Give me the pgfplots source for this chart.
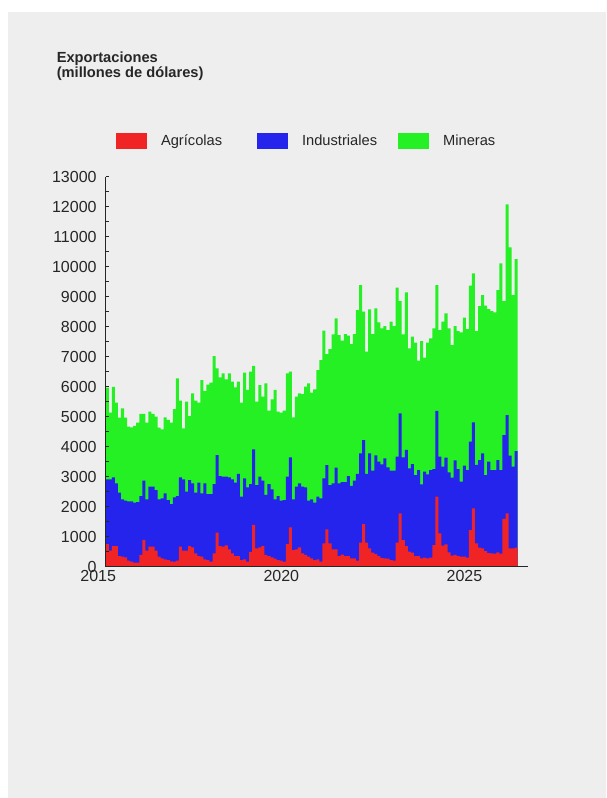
\documentclass[border=0pt]{standalone}
\usepackage{fontspec}
\setmainfont{Liberation Sans}
\usepackage{pgfplots}
\pgfplotsset{compat=1.18}
\usepackage{pgfplotstable}
\definecolor{agricol}{RGB}{240,36,36}
\definecolor{indcol}{RGB}{36,36,236}
\definecolor{mincol}{RGB}{36,240,36}
\definecolor{bggray}{RGB}{238,238,238}
% j = month index (bar 0 = Mar 2015); agri = Agricolas; agriind = Agricolas+Industriales; total = all three
\pgfplotstableread{
j agri agriind total
0 756 2912 5967
1 533 2912 5134
2 689 2978 5990
3 689 2778 5467
4 356 2467 4967
5 333 2245 5278
6 311 2200 4967
7 200 2178 4667
8 167 2178 4645
9 133 2134 4690
10 133 2156 4800
11 390 2356 5090
12 890 2867 5090
13 533 2245 4800
14 667 2667 5167
15 667 2667 5090
16 533 2556 5000
17 333 2245 4634
18 278 2278 4578
19 245 2445 4978
20 222 2223 4890
21 178 2089 4800
22 167 2312 5256
23 200 2356 6278
24 667 2978 5534
25 533 2912 4612
26 533 2500 5500
27 689 2889 5023
28 645 2778 5778
29 444 2467 5534
30 356 2800 5467
31 333 2445 6223
32 245 2778 5856
33 222 2423 6070
34 167 2423 6134
35 445 2756 7023
36 1134 3723 6612
37 689 3023 6312
38 667 3000 6445
39 712 3000 6245
40 578 2978 6445
41 445 2912 6167
42 356 2800 5978
43 356 3090 6167
44 222 2334 5467
45 245 2945 6467
46 167 2645 5890
47 490 2756 6500
48 1390 3912 6690
49 612 2723 5500
50 645 3000 6056
51 690 2867 5667
52 390 2390 6112
53 356 2756 5200
54 311 2578 5578
55 267 2245 5890
56 222 2356 5167
57 200 2200 5134
58 167 2223 5200
59 756 3000 6445
60 1312 3645 6500
61 556 2245 4978
62 578 2667 5667
63 645 2778 5778
64 445 2667 5756
65 390 2645 6000
66 333 2200 6112
67 278 2245 5800
68 222 2134 5911
69 245 2334 6556
70 167 2278 6889
71 778 2945 7867
72 1245 3389 7089
73 778 2723 7256
74 578 2778 7745
75 578 3300 8278
76 356 2778 7722
77 400 2823 7534
78 356 2823 7756
79 356 3023 7700
80 278 2690 7423
81 278 2867 7756
82 200 3090 8556
83 800 3779 9389
84 1423 4223 8500
85 800 3090 7167
86 611 3779 8578
87 467 3200 7756
88 422 3712 8611
89 356 3500 8145
90 289 3412 7945
91 278 3612 8023
92 267 3312 7889
93 222 3200 8167
94 200 3200 8023
95 800 3667 9300
96 1778 5112 8856
97 889 3645 7745
98 689 3890 9145
99 500 3278 7278
100 467 3423 7667
101 356 3056 7467
102 356 3223 6867
103 278 2745 7523
104 300 3167 6967
105 278 3078 7467
106 300 3223 7612
107 722 3256 7945
108 2334 5190 9389
109 1111 3667 7889
110 700 3334 8167
111 745 3634 8445
112 478 3145 7945
113 367 2967 7389
114 390 3545 8023
115 356 3256 7856
116 334 2834 7812
117 334 3367 8300
118 300 3223 7923
119 1222 4167 9367
120 1945 4812 9778
121 778 3390 7856
122 634 3556 8689
123 612 3778 9056
124 522 3056 8700
125 456 3500 8589
126 445 3223 8523
127 434 3223 8478
128 478 3556 9223
129 434 3223 10111
130 1590 4389 8856
131 1778 5056 12078
132 612 3700 10645
133 612 3334 9056
134 634 3856 10256
135 634 3856 10256
}\datatable

\begin{document}
\begin{tikzpicture}
\path[use as bounding box, fill=white] (-79.275pt,-173.475pt) rectangle (375.225pt,425.025pt);
\fill[bggray] (-73.275pt,-173.475pt) rectangle (375.225pt,416.025pt);
\node[anchor=base west, inner sep=0pt, font=\bfseries\fontsize{11}{13}\selectfont, text=black!85] at (-36.9pt,378pt) {Exportaciones};
\node[anchor=base west, inner sep=0pt, font=\bfseries\fontsize{11}{13}\selectfont, text=black!85] at (-36.9pt,367.05pt) {(millones de dólares)};
\begin{axis}[
  scale only axis,
  width=316.725pt, height=292.5pt,
  xmin=0, xmax=138.37, ymin=0, ymax=13000,
  axis lines*=left,
  axis line style={black!85, line width=0.75pt},
  axis on top,
  clip=false,
  xtick={57.54,117.54},
  xticklabels={2020,2025},
  xtick style={draw=none},
  ytick distance=1000,
  scaled y ticks=false,
  minor y tick num=1,
  tick align=inside,
  major tick length=2.4pt,
  minor tick length=2.4pt,
  ytick style={black!85, line width=0.75pt},
  minor tick style={black!85, line width=0.75pt},
  ticklabel style={font=\fontsize{12}{14}\selectfont, text=black!85},
  yticklabel style={xshift=-3.3pt, /pgf/number format/fixed, /pgf/number format/precision=0},
  xticklabel style={yshift=0.8pt},
  /pgf/number format/assume math mode=true,
  /pgf/number format/1000 sep={},
  legend columns=3,
  legend cell align=left,
  legend image code/.code={\fill[#1] (0pt,-6pt) rectangle (23.7pt,6pt);},
  legend style={draw=none, fill=none, inner sep=0pt, outer sep=0pt,
    at={(axis description cs:0.02368,1.0908)}, anchor=west,
    nodes={inner sep=0pt, text=black!85},
    font=\fontsize{11}{13}\selectfont,
    /tikz/every odd column/.append style={column sep=10.3pt},
    /tikz/every even column/.append style={column sep=0pt}},
]
\addplot[const plot, fill=mincol, draw=none, forget plot] table[x=j, y=total]{\datatable} \closedcycle;
\addplot[const plot, fill=indcol, draw=none, forget plot] table[x=j, y=agriind]{\datatable} \closedcycle;
\addplot[const plot, fill=agricol, draw=none, forget plot] table[x=j, y=agri]{\datatable} \closedcycle;
\addlegendimage{fill=agricol, draw=none}
\addlegendimage{fill=indcol, draw=none}
\addlegendimage{fill=mincol, draw=none}
\legend{\makebox[71.8pt][l]{Agrícolas}, \makebox[71.8pt][l]{Industriales}, Mineras}
\node[anchor=north, font=\fontsize{12}{14}\selectfont, text=black!85, yshift=0.8pt] at (axis cs:-2.46,0) {2015};
\end{axis}
\end{tikzpicture}
\end{document}
